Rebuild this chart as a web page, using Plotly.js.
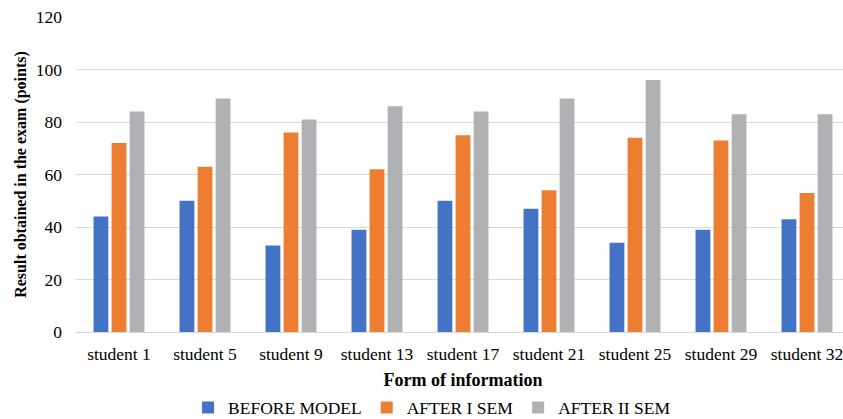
<!DOCTYPE html>
<html>
<head>
<meta charset="utf-8">
<script src="https://cdn.plot.ly/plotly-3.0.1.min.js"></script>
<style>
  html, body { margin: 0; padding: 0; overflow: hidden; background: #fff; }
  #chart { width: 850px; height: 419px; }
</style>
</head>
<body>
<div id="chart"></div>
<script>
// Exam results per student at three stages
const students = ["student 1", "student 5", "student 9", "student 13", "student 17",
                  "student 21", "student 25", "student 29", "student 32"];
const beforeModel = [44, 50, 33, 39, 50, 47, 34, 39, 43];
const afterSem1   = [72, 63, 76, 62, 75, 54, 74, 73, 53];
const afterSem2   = [84, 89, 81, 86, 84, 89, 96, 83, 83];
const seriesNames = ["BEFORE MODEL", "AFTER I SEM", "AFTER II SEM"];
const seriesColors = ["#4472C4", "#ED7D31", "#B0B1B4"];
const yTicks = [0, 20, 40, 60, 80, 100, 120];

const serif = "Liberation Serif";

const traces = [beforeModel, afterSem1, afterSem2].map((vals, i) => ({
  type: "bar",
  x: students,
  y: vals,
  name: seriesNames[i],
  marker: { color: seriesColors[i], line: { width: 0 } },
  hoverinfo: "x+y+name"
}));

const layout = {
  width: 850,
  height: 419,
  margin: { l: 76, r: 0, t: 17, b: 87 },
  paper_bgcolor: "#ffffff",
  plot_bgcolor: "#ffffff",
  font: { family: serif, size: 17.5, color: "#000" },
  barmode: "group",
  bargap: 0.37,
  bargroupgap: 0.18,
  showlegend: true,
  legend: {
    orientation: "h",
    xref: "paper",
    x: 0.46, xanchor: "center",
    yref: "container",
    y: 0.027, yanchor: "middle",
    font: { family: serif, size: 17.5, color: "#000" },
    itemwidth: 30,
    tracegroupgap: 0,
    traceorder: "normal"
  },
  xaxis: {
    type: "category",
    automargin: false,
    showgrid: false,
    showline: true,
    linecolor: "#d9d9d9",
    linewidth: 1,
    ticks: "",
    ticklabelstandoff: 6,
    tickfont: { family: serif, size: 17.5, color: "#000" },
    title: { text: "<b>Form of information</b>", font: { family: serif, size: 18, color: "#000" }, standoff: 12 }
  },
  yaxis: {
    range: [0, 120],
    automargin: false,
    tickvals: yTicks,
    ticktext: yTicks.map(String),
    showgrid: true,
    gridcolor: "#d9d9d9",
    gridwidth: 1,
    zeroline: false,
    showline: false,
    ticks: "",
    ticklabelstandoff: 13,
    tickfont: { family: serif, size: 17.5, color: "#000" },
    title: { text: "<b>Result obtained in the exam (points)</b>", font: { family: serif, size: 16, color: "#000" }, standoff: 5 }
  }
};

Plotly.newPlot("chart", traces, layout, { displayModeBar: false, staticPlot: true });
</script>
</body>
</html>
